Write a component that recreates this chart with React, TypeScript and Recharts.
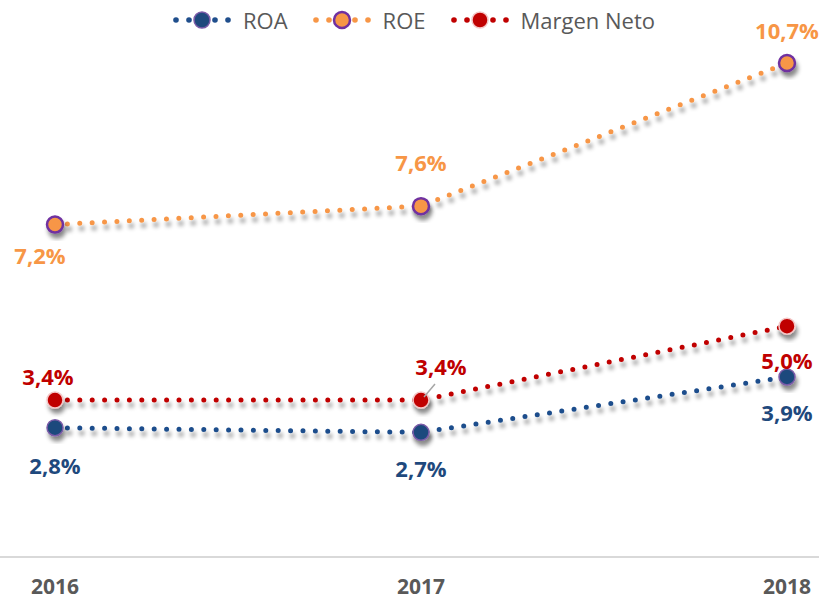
import React from 'react';
import { LineChart, Line, XAxis, YAxis, Legend, LabelList } from 'recharts';

const years = ['2016', '2017', '2018'];
const roa = [2.8, 2.7, 3.9];
const roe = [7.2, 7.6, 10.7];
const margen = [3.4, 3.4, 5.0];
const seriesNames = ['ROA', 'ROE', 'Margen Neto'];

const data = years.map((y, i) => ({ year: y, roa: roa[i], roe: roe[i], margen: margen[i] }));

const COLORS = {
  roa: { line: '#1F4E8C', fill: '#1F497D', stroke: '#7B5BA8', label: '#1F497D' },
  roe: { line: '#F79646', fill: '#F79646', stroke: '#7030A0', label: '#F79646' },
  margen: { line: '#C00000', fill: '#C00000', stroke: '#F4C7C7', label: '#C00000' },
};

// label offsets (dx, dy) per series per point
const LABEL_OFFSETS: Record<string, [number, number][]> = {
  roa: [[0, 37], [0, 36], [0, 35]],
  roe: [[-15, 30], [0, -44], [0, -33]],
  margen: [[-7, -24], [20, -34], [0, 34]],
};

const fmt = (v: number) => v.toFixed(1).replace('.', ',') + '%';

const labelFont = '"Open Sans", "Liberation Sans", sans-serif';

const makeLabel = (key: string) => (props: any) => {
  const { x, y, value, index } = props;
  const [dx, dy] = LABEL_OFFSETS[key][index];
  const c = (COLORS as any)[key];
  return (
    <g key={`lbl-${key}-${index}`}>
      {key === 'margen' && index === 1 ? (
        <line x1={x + 3} y1={y - 3} x2={x + 14} y2={y - 16} stroke="#A6A6A6" strokeWidth={1.5} />
      ) : null}
      <text
        x={x + dx}
        y={y + dy}
        textAnchor="middle"
        dominantBaseline="central"
        fill={c.label}
        fontFamily={labelFont}
        fontWeight="bold"
        fontSize={22}
      >
        {fmt(value)}
      </text>
    </g>
  );
};

const makeDot = (key: string) => (props: any) => {
  const { cx, cy, index } = props;
  const c = (COLORS as any)[key];
  const sw = key === 'roe' ? 2.5 : 1.5;
  return (
    <circle
      key={`dot-${key}-${index}`}
      cx={cx}
      cy={cy}
      r={8}
      fill={c.fill}
      stroke={c.stroke}
      strokeWidth={sw}
      filter="url(#shadow)"
    />
  );
};

const LegendIcon = ({ k }: { k: string }) => {
  const c = (COLORS as any)[k];
  const sw = k === 'roe' ? 2.5 : 1.5;
  return (
    <svg width={62} height={22} style={{ display: 'block' }}>
      {[4, 17, 43, 56].map((x) => (
        <circle key={x} cx={x} cy={11} r={2.8} fill={c.line} />
      ))}
      <circle cx={30} cy={11} r={8} fill={c.fill} stroke={c.stroke} strokeWidth={sw} />
    </svg>
  );
};

const renderLegend = () => {
  const keys = ['roa', 'roe', 'margen'];
  return (
    <div style={{ position: 'absolute', top: 9, left: 4, width: 819, display: 'flex', justifyContent: 'center', gap: 24 }}>
      {keys.map((k, i) => (
        <div key={k} style={{ display: 'flex', alignItems: 'center', gap: 9 }}>
          <LegendIcon k={k} />
          <span style={{ fontFamily: '"Open Sans", sans-serif', fontSize: 22, color: '#595959', lineHeight: '22px' }}>
            {seriesNames[i]}
          </span>
        </div>
      ))}
    </div>
  );
};

export default function App() {
  return (
    <div style={{ position: 'absolute', left: 0, top: 0, width: 819, height: 602, background: '#fff' }}>
      <LineChart width={819} height={602} data={data} margin={{ top: 3, right: 0, bottom: 0, left: 0 }}>
        <defs>
          <filter id="shadow" x="-50%" y="-50%" width="200%" height="200%">
            <feDropShadow dx={2} dy={5} stdDeviation={2.2} floodColor="#000" floodOpacity={0.45} />
          </filter>
        </defs>
        <Legend verticalAlign="top" content={renderLegend} wrapperStyle={{ top: 0, left: 0, height: 0, width: 819 }} />
        <XAxis
          dataKey="year"
          padding={{ left: 55, right: 32 }}
          axisLine={{ stroke: '#D9D9D9', strokeWidth: 2 }}
          tickLine={false}
          height={45}
          tickMargin={16}
          tick={{ fill: '#595959', fontSize: 21, fontWeight: 'bold', fontFamily: '"Liberation Sans Narrow", "Open Sans", sans-serif' }}
        />
        <YAxis hide domain={[0, 12]} />
        <Line
          dataKey="roe"
          stroke={COLORS.roe.line}
          strokeWidth={5}
          strokeDasharray="0 12.4"
          strokeLinecap="round"
          filter="url(#shadow)"
          dot={makeDot('roe')}
          activeDot={false}
          isAnimationActive={false}
        >
          <LabelList dataKey="roe" content={makeLabel('roe')} />
        </Line>
        <Line
          dataKey="margen"
          stroke={COLORS.margen.line}
          strokeWidth={5}
          strokeDasharray="0 12.4"
          strokeLinecap="round"
          filter="url(#shadow)"
          dot={makeDot('margen')}
          activeDot={false}
          isAnimationActive={false}
        >
          <LabelList dataKey="margen" content={makeLabel('margen')} />
        </Line>
        <Line
          dataKey="roa"
          stroke={COLORS.roa.line}
          strokeWidth={5}
          strokeDasharray="0 12.4"
          strokeLinecap="round"
          filter="url(#shadow)"
          dot={makeDot('roa')}
          activeDot={false}
          isAnimationActive={false}
        >
          <LabelList dataKey="roa" content={makeLabel('roa')} />
        </Line>
      </LineChart>
    </div>
  );
}
